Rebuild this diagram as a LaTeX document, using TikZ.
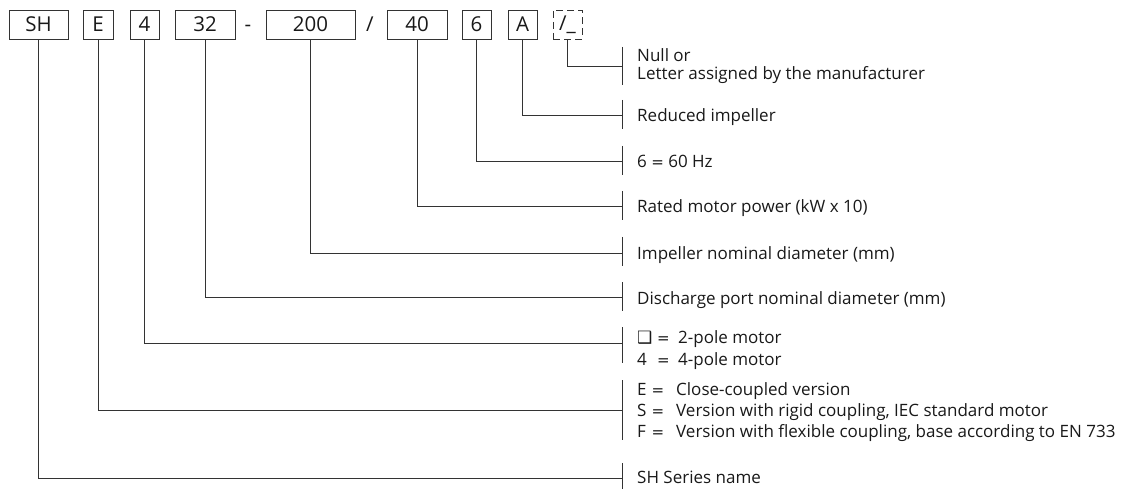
\documentclass[tikz,border=0pt]{standalone}
\usepackage{fontspec}
\setmainfont{Open Sans}
\newfontfamily\dejavu{DejaVu Sans}
\newcommand{\eqs}{{\dejavu\fontsize{15}{15}\selectfont =}}
\begin{document}
\begin{tikzpicture}[x=1pt,y=-1pt,
  codebox/.style={draw=black!80,line width=0.9pt,minimum height=29pt,inner sep=0pt,font=\fontsize{20.5}{20.5}\selectfont,text=black!90},
  dashbox/.style={codebox,dash pattern=on 7pt off 4pt},
  sep/.style={font=\fontsize{20.5}{20.5}\selectfont,text=black!90},
  conn/.style={draw=black!80,line width=0.9pt},
  tick/.style={draw=black!80,line width=0.9pt},
  lab/.style={anchor=base west,inner sep=0pt,font=\fontsize{17}{17}\selectfont,text=black!90}
]
\useasboundingbox (0,0) rectangle (1127,489);
% code boxes
\node[codebox,minimum width=59pt] (bSH) at (38.5,24.5) {SH};
\node[codebox,minimum width=30pt] (bE) at (98,24.5) {E};
\node[codebox,minimum width=29pt] (b4) at (144.5,24.5) {4};
\node[codebox,minimum width=60pt] (b32) at (205,24.5) {32};
\node[sep] (dash) at (248,28) {-};
\node[codebox,minimum width=89pt] (b200) at (310.5,24.5) {200};
\node[sep] (slash) at (370,24.5) {/};
\node[codebox,minimum width=60pt] (b40) at (417,24.5) {40};
\node[codebox,minimum width=29pt] (b6) at (476.5,24.5) {6};
\node[codebox,minimum width=29pt] (bA) at (522.5,24.5) {A};
\node[dashbox,minimum width=29pt] (bN) at (567.5,24.5) {/\_};
% connector ends
\coordinate (tN) at (622,66);
\coordinate (tA) at (622,115);
\coordinate (t6) at (622,161);
\coordinate (t40) at (622,206);
\coordinate (t200) at (622,253);
\coordinate (t32) at (622,297);
\coordinate (t4) at (622,343);
\coordinate (tE) at (622,410);
\coordinate (tSH) at (622,478);
\draw[conn] (bN.south) |- (tN);
\draw[conn] (bA.south) |- (tA);
\draw[conn] (b6.south) |- (t6);
\draw[conn] (b40.south) |- (t40);
\draw[conn] (b200.south) |- (t200);
\draw[conn] (b32.south) |- (t32);
\draw[conn] (b4.south) |- (t4);
\draw[conn] (bE.south) |- (tE);
\draw[conn] (bSH.south) |- (tSH);
% ticks
\draw[tick] (622,47) -- (622,85);
\draw[tick] (622,100) -- (622,129);
\draw[tick] (622,146) -- (622,175);
\draw[tick] (622,191) -- (622,220);
\draw[tick] (622,237) -- (622,266);
\draw[tick] (622,282) -- (622,311);
\draw[tick] (622,327) -- (622,363);
\draw[tick] (622,380) -- (622,440);
\draw[tick] (622,463) -- (622,489);
% labels
\node[lab] (lN1) at (637,62) {Null or};
\node[lab] (lN2) at (637,80) {Letter assigned by the manufacturer};
\node[lab] (lA) at (637,122) {Reduced impeller};
\node[lab] (l6) at (637,168) {6 \eqs\ 60 Hz};
\node[lab] (l40) at (637,213) {Rated motor power (kW x 10)};
\node[lab] (l200) at (637,259) {Impeller nominal diameter (mm)};
\node[lab] (l32) at (637,304) {Discharge port nominal diameter (mm)};
\node[lab] (l4a) at (637,343) {{\dejavu\fontsize{17}{17}\selectfont ❑}};
\node[lab] (l4b) at (657,343) {\eqs};
\node[lab] (l4c) at (678,343) {2-pole motor};
\node[lab] (l4d) at (637,365) {4};
\node[lab] (l4e) at (657,365) {\eqs};
\node[lab] (l4f) at (678,365) {4-pole motor};
\node[lab] (lE1) at (637,395) {E};
\node[lab] (lE2) at (651.5,395) {\eqs};
\node[lab] (lE3) at (676,395) {Close-coupled version};
\node[lab] (lS1) at (637,416) {S};
\node[lab] (lS2) at (651.5,416) {\eqs};
\node[lab] (lS3) at (676,416) {Version with rigid coupling, IEC standard motor};
\node[lab] (lF1) at (637,437) {F};
\node[lab] (lF2) at (651.5,437) {\eqs};
\node[lab] (lF3) at (676,437) {Version with flexible coupling, base according to EN 733};
\node[lab] (lSH) at (637,483) {SH Series name};
\end{tikzpicture}
\end{document}
